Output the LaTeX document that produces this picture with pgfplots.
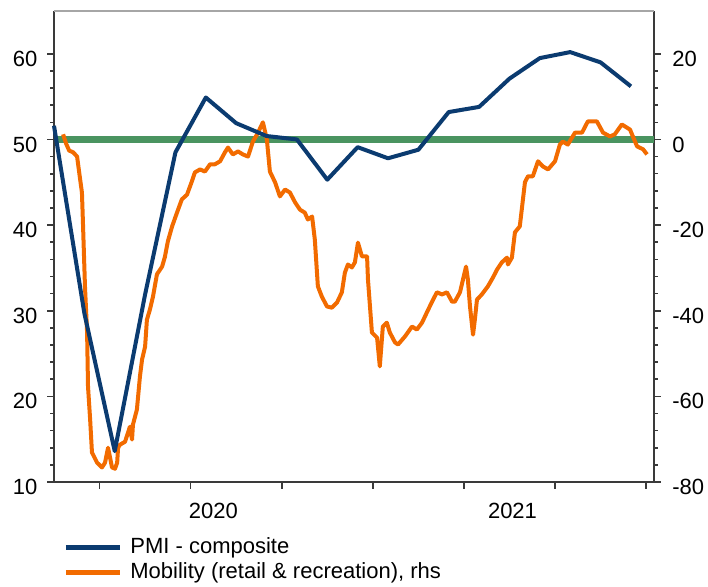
\documentclass[border=0pt]{standalone}
\usepackage{fontspec}
\setmainfont{Liberation Sans}
\usepackage{pgfplots}
\pgfplotsset{compat=1.18}
\definecolor{pminavy}{HTML}{0B3B70}
\definecolor{moborange}{HTML}{F26B00}
\definecolor{refgreen}{HTML}{4A9460}
\definecolor{axisgray}{HTML}{3A3A3A}
\begin{document}
\fontsize{11}{13}\selectfont
\begin{tikzpicture}
\useasboundingbox (-27pt,-52.5pt) rectangle (327pt,241pt);
\pgfplotsset{
  common/.style={
    at={(0pt,0pt)}, anchor=south west,
    scale only axis, width=300pt, height=235.5pt,
    xmin=0, xmax=19.76,
    clip=false,
    tick align=outside,
    major tick length=3.3pt, minor tick length=1.8pt,
    every tick/.style={draw=axisgray, line width=0.8pt},
    axis line style={-, draw=axisgray, line width=1pt},
    tick label style={font=\fontsize{11}{13}\selectfont},
    /pgf/number format/assume math mode=true,
  }
}
% right axis: mobility
\begin{axis}[common,
  axis x line=none, axis y line*=right,
  ymin=-80, ymax=30,
  ytick={-80,-60,-40,-20,0,20},
  minor y tick num=4,
  yticklabel style={xshift=2pt, yshift=-2.5pt},
]
\addplot[refgreen, line width=3.5pt, forget plot] coordinates {(0,0) (19.76,0)};
\addplot[moborange, line width=2pt, line join=round] coordinates {
(0.30,1.2) (0.40,-1.0) (0.50,-2.6) (0.63,-3.0) (0.76,-4.0) (0.86,-9.3) (0.92,-12.4)
(0.95,-18.7) (1.02,-34.3) (1.09,-45.1) (1.12,-57.7) (1.19,-65.4) (1.25,-73.1)
(1.42,-75.5) (1.58,-76.6) (1.68,-75.5) (1.78,-72.0) (1.84,-74.1) (1.91,-76.6)
(2.01,-76.9) (2.08,-75.5) (2.11,-72.0) (2.17,-71.3) (2.34,-70.6) (2.50,-67.1)
(2.57,-70.1) (2.60,-66.6) (2.73,-63.1) (2.83,-55.4) (2.90,-51.4) (3.00,-48.4)
(3.06,-42.1) (3.16,-39.7) (3.26,-36.7) (3.39,-31.5) (3.56,-29.7) (3.65,-27.5)
(3.75,-23.8) (3.89,-20.3) (4.05,-17.1) (4.21,-14.0) (4.38,-12.9) (4.54,-9.8)
(4.64,-7.7) (4.81,-7.0) (4.97,-7.5) (5.14,-5.8) (5.30,-5.8) (5.47,-5.1)
(5.63,-3.0) (5.73,-1.9) (5.89,-3.5) (6.06,-2.8) (6.22,-3.5) (6.39,-4.0)
(6.55,-0.5) (6.72,1.6) (6.88,4.0) (7.01,0.0) (7.11,-7.5) (7.28,-10.0)
(7.44,-13.3) (7.61,-11.7) (7.77,-12.4) (7.94,-14.7) (8.10,-16.4) (8.26,-17.1)
(8.36,-18.7) (8.50,-18.0) (8.59,-23.4) (8.69,-34.3) (8.82,-36.7) (8.99,-39.0)
(9.15,-39.3) (9.32,-38.1) (9.48,-35.7) (9.58,-31.1) (9.68,-29.2) (9.81,-29.9)
(9.91,-28.7) (10.01,-24.1) (10.14,-27.3) (10.31,-27.3) (10.34,-32.7) (10.47,-45.1)
(10.64,-46.3) (10.73,-53.0) (10.83,-43.7) (10.96,-42.8) (11.06,-45.1) (11.23,-47.4)
(11.33,-47.9) (11.56,-46.0) (11.79,-43.7) (11.95,-44.4) (12.12,-42.8) (12.28,-40.4)
(12.45,-37.9) (12.61,-35.7) (12.78,-36.2) (12.94,-35.7) (13.11,-37.9) (13.20,-37.9)
(13.37,-35.7) (13.47,-32.7) (13.57,-29.7) (13.63,-32.7) (13.70,-39.0) (13.80,-45.6)
(13.86,-42.1) (13.93,-37.4) (14.09,-36.2) (14.29,-34.3) (14.46,-32.2) (14.59,-30.4)
(14.75,-28.7) (14.92,-27.6) (14.95,-29.2) (15.08,-27.6) (15.18,-21.7) (15.34,-20.3)
(15.51,-10.0) (15.61,-8.6) (15.77,-8.6) (15.94,-5.1) (16.10,-6.3) (16.27,-7.0)
(16.50,-5.1) (16.66,-1.2) (16.76,-0.5) (16.92,-1.2) (17.16,1.6) (17.39,1.6)
(17.58,4.2) (17.88,4.2) (18.08,1.6) (18.31,0.7) (18.47,1.2) (18.70,3.5)
(18.97,2.3) (19.20,-1.6) (19.40,-2.3) (19.53,-3.5)
};
\end{axis}
% left axis: PMI
\begin{axis}[common,
  axis x line*=bottom, axis y line*=left,
  ymin=10, ymax=65,
  ytick={10,20,30,40,50,60},
  minor y tick num=4,
  xtick={1.5,4.5,7.5,10.5,13.5,16.5,19.5},
  xticklabels={},
  yticklabel style={xshift=-1.2pt, yshift=-2.5pt},
  legend style={at={(0.015,-0.1168)}, anchor=north west, draw=none, fill=none,
    inner sep=0pt, row sep=2pt, column sep=4pt,
    font=\fontsize{11}{13}\selectfont,
    nodes={inner sep=0pt, text height=8pt, text depth=2.5pt}},
  legend cell align=left,
  legend image code/.code={\draw[#1, line width=2.5pt] (0pt,0pt) -- (27pt,0pt);},
]
\draw[gray!70, line width=0.6pt] (rel axis cs:0,1) -- (rel axis cs:1,1);
\addplot[pminavy, line width=2pt, line join=round] coordinates {
(0,51.6) (1,29.7) (2,13.6) (3,31.9) (4,48.5) (5,54.9) (6,51.9) (7,50.4) (8,50.0)
(9,45.3) (10,49.1) (11,47.8) (12,48.8) (13,53.2) (14,53.8) (15,57.1) (16,59.5)
(17,60.2) (18,59.0) (19,56.2)
};
\addlegendentry{PMI - composite}
\addlegendimage{moborange}
\addlegendentry{Mobility (retail \& recreation), rhs}
\node[anchor=north, inner sep=0pt, yshift=-10.5pt] at (axis cs:5.25,10) {2020};
\node[anchor=north, inner sep=0pt, yshift=-10.5pt] at (axis cs:15.1,10) {2021};
\end{axis}
\end{tikzpicture}
\end{document}
